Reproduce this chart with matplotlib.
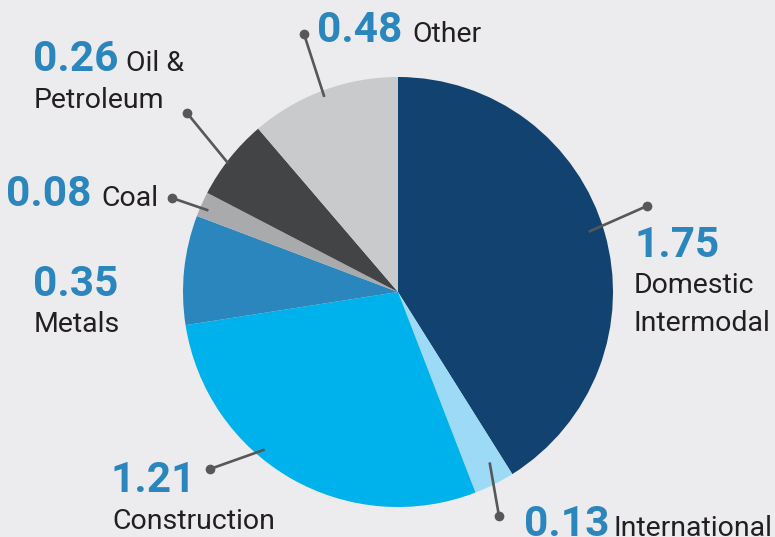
import numpy as np
import matplotlib
matplotlib.use("Agg")
import matplotlib.pyplot as plt

# ---------------------------------------------------------------------------
# Data
# ---------------------------------------------------------------------------
categories = ["Domestic\nIntermodal", "International", "Construction", "Metals",
              "Coal", "Oil &\nPetroleum", "Other"]
values = [1.75, 0.13, 1.21, 0.35, 0.08, 0.26, 0.48]
value_labels = ["1.75", "0.13", "1.21", "0.35", "0.08", "0.26", "0.48"]
colors = ["#12426f", "#9cdaf6", "#00b2ec", "#2b86bd", "#a9aaac", "#434446", "#c9cacc"]

BG = "#ececee"
VALUE_COLOR = "#2b86bd"
TEXT_COLOR = "#231f20"
LINE_COLOR = "#555759"

W, H = 775, 537
CX, CY, R = 398, 292, 215  # pie centre / radius in pixels (y from top)
LINE_STEP = 38


def px(x, y):
    """pixel (from top-left) -> data coords"""
    return x, H - y


plt.rcParams["font.family"] = ["Roboto", "DejaVu Sans"]

fig = plt.figure(figsize=(W / 100, H / 100), dpi=100, facecolor=BG)
ax = fig.add_axes([0, 0, 1, 1])
ax.set_facecolor(BG)

wedges, _ = ax.pie(values, colors=colors, startangle=90, counterclock=False,
                   center=px(CX, CY), radius=R, frame=True,
                   wedgeprops=dict(linewidth=0))

ax.set_xlim(0, W)
ax.set_ylim(0, H)
ax.set_aspect("equal")
ax.axis("off")

# ---------------------------------------------------------------------------
# Label layout: value pos, per-line label pos, dot pos,
# anchor = clockwise fraction inside wedge + radius fraction
# ---------------------------------------------------------------------------
layout = [
    dict(vpos=(634, 257), lines=[(634, 293), (634, 331)], dot=(647, 206), frac=0.49, rr=0.93),
    dict(vpos=(524, 536), lines=[(614, 536)], dot=(499, 516), frac=0.35, rr=0.90),
    dict(vpos=(111, 492), lines=[(112, 529)], dot=(210, 469), frac=0.60, rr=0.96),
    dict(vpos=(33, 296), lines=[(34, 332)], dot=None, frac=0.5, rr=0.95),
    dict(vpos=(6, 206), lines=[(101, 206)], dot=(172, 198), frac=0.38, rr=0.96),
    dict(vpos=(33, 71), lines=[(126, 71), (34, 108)], dot=(187, 113), frac=0.44, rr=0.99),
    dict(vpos=(317, 42), lines=[(412, 42)], dot=(304, 34), frac=0.49, rr=0.97),
]

for w, lab, val, lo in zip(wedges, categories, value_labels, layout):
    x, y = px(*lo["vpos"])
    ax.text(x, y, val, fontsize=30.5, fontweight="bold", color=VALUE_COLOR,
            ha="left", va="baseline")
    for line, pos in zip(lab.split("\n"), lo["lines"]):
        x, y = px(*pos)
        ax.text(x, y, line, fontsize=20.5, color=TEXT_COLOR, ha="left", va="baseline")
    if lo["dot"] is not None:
        # wedge angles run counter-clockwise; measure the fraction clockwise
        ang = np.deg2rad(w.theta2 - lo["frac"] * (w.theta2 - w.theta1))
        ex = w.center[0] + lo["rr"] * w.r * np.cos(ang)
        ey = w.center[1] + lo["rr"] * w.r * np.sin(ang)
        dx, dy = px(*lo["dot"])
        ax.plot([dx, ex], [dy, ey], color=LINE_COLOR, lw=1.9, solid_capstyle="butt")
        ax.plot(dx, dy, "o", color=LINE_COLOR, markersize=7, markeredgewidth=0)

fig.savefig("out.png", dpi=100, facecolor=BG)
